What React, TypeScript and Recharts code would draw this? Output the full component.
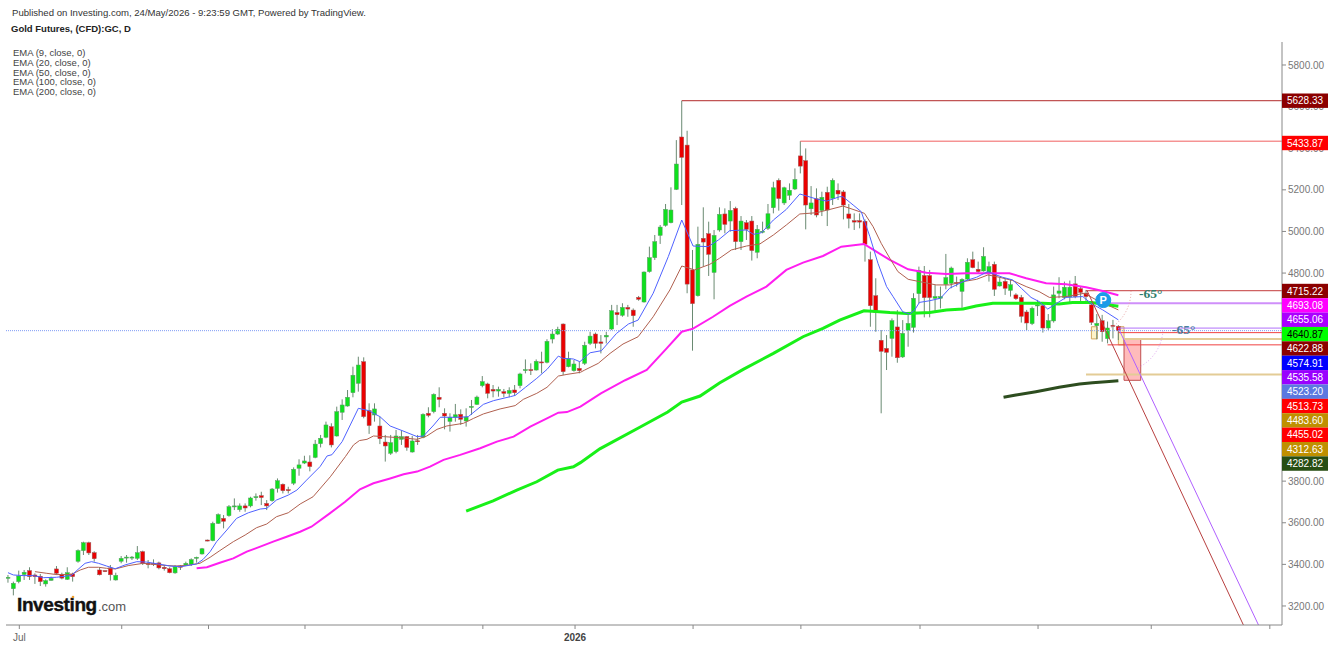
import React from "react";
import { ComposedChart, Bar, Line, XAxis, YAxis, ReferenceLine, ReferenceArea, ReferenceDot } from "recharts";

const opens = [3333,3283,3317,3351,3370,3349,3343,3306,3323,3378,3351,3328,3354,3415,3466,3504,3456,3373,3370,3383,3325,3415,3432,3432,3429,3461,3405,3405,3407,3386,3379,3359,3392,3397,3400,3431,3450,3517,3514,3597,3621,3634,3676,3663,3681,3681,3721,3730,3693,3706,3765,3785,3759,3790,3862,3887,3892,3914,3980,4011,4062,4017,4131,4161,4225,4270,4374,4139,4118,4065,3988,3934,3942,4001,4014,3940,3994,4011,4126,4134,4203,4126,4087,4107,4121,4089,4156,4169,4259,4267,4241,4233,4230,4222,4238,4259,4333,4336,4334,4373,4371,4483,4507,4555,4350,4331,4342,4366,4462,4507,4469,4493,4531,4610,4597,4635,4622,4683,4661,4807,4874,4981,5029,5042,5202,5454,5415,4815,4691,4967,4989,4803,5007,5084,5050,5111,4951,5042,5050,4900,4997,5015,5114,5246,5137,5174,5204,5363,5340,5109,5157,5101,5188,5159,5198,5190,5084,5052,5052,5049,4864,4691,4477,4438,4486,4541,4397,4525,4539,4701,4788,4788,4679,4679,4746,4751,4755,4712,4771,4864,4818,4810,4799,4842,4738,4760,4717,4695,4683,4613,4557,4642,4643,4536,4570,4703,4682,4685,4748,4725,4703,4647,4547,4571,4485,4549,4544];
const closes = [3338,3309,3344,3362,3341,3341,3317,3322,3333,3357,3334,3360,3341,3466,3504,3455,3427,3350,3365,3350,3347,3429,3435,3435,3456,3405,3399,3400,3383,3379,3360,3389,3386,3405,3423,3434,3475,3512,3597,3639,3607,3677,3681,3681,3671,3719,3725,3721,3681,3762,3802,3754,3754,3857,3878,3897,3870,3978,4006,4070,3974,4134,4166,4203,4309,4358,4110,4067,4147,4004,3969,3985,4017,4014,3962,3993,3990,4121,4116,4217,4193,4113,4107,4119,4097,4108,4159,4204,4278,4222,4233,4241,4222,4236,4225,4315,4336,4331,4376,4368,4472,4507,4530,4326,4389,4363,4331,4453,4497,4462,4462,4501,4619,4600,4635,4627,4595,4674,4805,4874,4951,5021,5106,5103,5324,5356,4747,4653,4938,4949,4890,4981,5082,5034,5101,4951,5050,5010,4908,5010,5001,5085,5210,5158,5210,5198,5250,5314,5127,5137,5079,5164,5103,5246,5180,5127,5063,5045,5045,4938,4643,4610,4424,4419,4571,4393,4510,4558,4679,4813,4682,4682,4687,4687,4778,4824,4751,4770,4852,4826,4807,4880,4831,4722,4757,4727,4744,4677,4592,4560,4631,4647,4536,4571,4695,4714,4732,4732,4687,4707,4687,4563,4558,4518,4536,4544,4523];
const highs = [3349,3317,3370,3373,3386,3357,3354,3328,3341,3392,3360,3386,3360,3472,3509,3509,3463,3386,3371,3397,3360,3440,3445,3440,3488,3466,3421,3424,3413,3397,3386,3397,3397,3413,3429,3437,3479,3519,3605,3645,3637,3685,3717,3693,3693,3725,3741,3749,3709,3767,3813,3789,3773,3866,3905,3922,3924,3998,4022,4086,4078,4158,4193,4238,4350,4398,4395,4174,4174,4110,4022,4022,4046,4043,4017,4017,4022,4126,4155,4222,4251,4150,4126,4171,4145,4150,4190,4211,4305,4273,4262,4254,4243,4251,4262,4321,4385,4366,4385,4422,4482,4530,4542,4558,4422,4382,4374,4470,4518,4514,4502,4518,4647,4647,4655,4647,4630,4690,4808,4927,4983,5031,5132,5212,5439,5628,5484,4911,5023,5116,5047,5007,5116,5111,5146,5119,5074,5055,5074,5031,5047,5132,5239,5255,5215,5231,5303,5434,5399,5218,5207,5191,5215,5255,5231,5199,5132,5087,5087,5058,4903,4775,4526,4502,4582,4622,4574,4606,4703,4831,4834,4815,4743,4735,4892,4831,4783,4775,4871,4903,4855,4924,4855,4855,4780,4775,4767,4703,4695,4623,4639,4671,4655,4603,4735,4780,4759,4764,4786,4735,4719,4663,4603,4599,4567,4575,4550];
const lows = [3312,3251,3309,3325,3325,3306,3296,3293,3322,3349,3328,3325,3317,3408,3445,3445,3413,3347,3363,3322,3322,3405,3408,3421,3421,3397,3381,3392,3376,3370,3357,3355,3373,3392,3392,3408,3447,3511,3511,3594,3573,3629,3661,3653,3653,3674,3706,3685,3661,3701,3745,3741,3741,3781,3826,3882,3847,3910,3962,4006,3962,4014,4094,4158,4203,4230,4102,4027,4086,3978,3894,3926,3934,3974,3946,3937,3974,4006,4107,4126,4155,4049,4038,4086,4070,4062,4118,4166,4251,4198,4203,4206,4203,4203,4209,4246,4318,4310,4331,4318,4366,4462,4502,4310,4347,4326,4318,4358,4454,4438,4414,4462,4526,4550,4590,4590,4542,4667,4658,4802,4863,4940,5023,5039,5199,5127,4703,4427,4687,4831,4786,4674,4999,4991,4999,4911,4911,4959,4860,4871,4991,5007,5087,5100,5127,5151,5199,5279,5010,5079,5068,5074,5026,5127,5151,5058,5015,5007,5015,4855,4542,4518,4126,4334,4398,4369,4392,4446,4514,4654,4587,4587,4614,4630,4722,4727,4735,4630,4767,4823,4799,4807,4759,4690,4735,4695,4687,4671,4562,4526,4550,4594,4514,4526,4562,4679,4674,4655,4679,4655,4663,4550,4482,4470,4462,4486,4478];

const ema9: [number, number][] = [[0,3360],[1,3349],[2.8,3346],[4.7,3346],[6.6,3336],[9,3338],[11.8,3347],[13,3376],[14.3,3405],[15.5,3413],[16.8,3405],[18.3,3392],[19.9,3379],[21.7,3397],[23.9,3413],[25.7,3411],[27.9,3402],[30,3392],[32.2,3389],[35,3402],[36.2,3424],[37.5,3461],[38.7,3509],[40.6,3565],[42.4,3621],[44.6,3648],[46.8,3666],[48,3669],[49.8,3709],[52,3733],[53.6,3757],[55.4,3805],[57.9,3870],[59.2,3921],[60.1,3927],[62,3990],[63.5,4070],[65,4150],[66.9,4139],[69,4110],[70.9,4065],[73.1,4043],[75.9,4014],[77.1,4017],[79,4070],[80.2,4107],[83.9,4107],[85.4,4110],[88.2,4169],[90.1,4187],[93.2,4206],[94.1,4212],[96,4251],[98.1,4294],[100,4337],[102.1,4401],[103,4390],[104.9,4387],[106.1,4374],[108,4417],[110.1,4427],[112.9,4510],[115.1,4555],[116.9,4574],[119.7,4703],[122.5,4879],[125,5055],[127.1,4930],[129.9,4927],[131.8,4959],[133.9,5004],[137,5007],[138.3,4986],[139.8,4994],[142,5055],[144.4,5106],[146.9,5180],[150,5156],[151.9,5146],[154.3,5167],[154.9,5167],[156.8,5127],[158.3,5095],[159.9,4975],[161.4,4847],[163,4735],[164.2,4687],[166,4614],[167.3,4603],[168.2,4622],[169.1,4659],[171,4667],[173,4679],[174.7,4727],[177.2,4759],[179.7,4780],[181.8,4807],[183,4794],[184.5,4780],[186.4,4767],[188,4727],[189.8,4683],[191.3,4663],[192.9,4627],[194.1,4647],[196.3,4683],[199.4,4687],[200.9,4655],[203.1,4623],[206,4575]];
const ema20: [number, number][] = [[5,3365],[7.2,3357],[9,3351],[11.8,3352],[13.4,3373],[14.9,3386],[16.8,3386],[18.3,3381],[19.9,3378],[22.3,3394],[25.1,3405],[28.2,3397],[31,3392],[33.1,3395],[35.6,3405],[37.5,3434],[39.3,3466],[41.8,3509],[44,3541],[46.1,3576],[48,3594],[49.8,3629],[52,3648],[54.2,3690],[56.6,3725],[59.8,3821],[62.6,3918],[64.1,3974],[65.2,3995],[66.6,4001],[67.8,4017],[69.7,4014],[74,4006],[75.9,4001],[77.7,4017],[79.6,4049],[81.4,4065],[84.5,4078],[86.4,4102],[88.2,4123],[91.3,4147],[94.1,4163],[95.6,4193],[98.1,4222],[100,4251],[102.1,4305],[103.7,4313],[106.2,4323],[107,4334],[109.5,4366],[111.7,4414],[114.1,4459],[116.9,4494],[119.7,4590],[122.8,4719],[125,4834],[127.4,4815],[130.2,4842],[132,4871],[134.2,4911],[137,4930],[139.5,4940],[142,4983],[144.4,5031],[146.9,5084],[150,5090],[152.5,5106],[154.9,5122],[156.2,5111],[158.9,5087],[160.5,5023],[162,4943],[163.6,4871],[165.1,4807],[167,4770],[169.1,4759],[172.2,4743],[174.7,4743],[177.2,4759],[179.7,4770],[181.8,4791],[183.9,4780],[186.4,4764],[188.9,4735],[191.3,4711],[193.2,4683],[196.3,4687],[199.7,4703],[201.9,4671],[206,4623]];
const ema50: [number, number][] = [[35,3381],[36.9,3386],[39.3,3408],[41.8,3429],[44.3,3461],[46.8,3485],[49.2,3509],[51.7,3533],[54.2,3557],[56.3,3581],[59.7,3645],[62.5,3700],[65.3,3761],[67.8,3790],[70.9,3813],[73.4,3833],[75.9,3846],[78.3,3870],[80.8,3902],[83.9,3926],[87.6,3958],[90.7,3990],[93.8,4014],[96.9,4062],[100,4102],[102.1,4129],[103.7,4132],[106.2,4158],[110,4222],[114.5,4285],[118.5,4334],[122.2,4438],[125,4518],[127.1,4533],[130.8,4590],[133.9,4642],[137,4687],[140.7,4735],[144.4,4815],[147.5,4850],[151.2,4882],[154.6,4927],[158.8,4940],[161.1,4903],[163.6,4863],[167,4818],[170.4,4802],[174.1,4795],[177.8,4799],[180.2,4799],[185.8,4799],[188.9,4775],[192.6,4751],[196.3,4746],[200,4732],[203.1,4714],[206,4693]];
const ema100: [number, number][] = [[85,3656],[90,3705],[94.4,3757],[98.1,3797],[102,3853],[104.9,3869],[106.2,3889],[109.8,3955],[117.3,4060],[122.4,4132],[125,4180],[128.4,4209],[132,4272],[136.4,4337],[142,4414],[147.5,4494],[151.2,4534],[154.3,4574],[158.8,4619],[161,4615],[163.6,4610],[166.7,4606],[171,4610],[174.1,4622],[177.2,4627],[179.6,4642],[182.7,4655],[185.8,4655],[192,4655],[195,4651],[197.5,4658],[201,4658],[206,4641]];
const ema200: [number, number][] = [[184.7,4203],[187,4214],[190.7,4230],[195,4251],[198.8,4267],[201.2,4273],[203.7,4278],[206,4283]];

const yTicks = [3200,3400,3600,3800,4800,5000,5200,5400,5600,5800];
const monthTicks = [2.1,21.1,37.2,55.1,73.1,88.1,105.2,127.1,147.1,169.2,191.1,212.1,234.1];
const monthLabels: Record<number, string> = { 2.1: "Jul", 105.2: "2026" };
const emaLegend = ["EMA (9, close, 0)","EMA (20, close, 0)","EMA (50, close, 0)","EMA (100, close, 0)","EMA (200, close, 0)"];
const priceTags = ["4715.22","4693.08","4655.06","4640.87","4622.88","4574.91","4535.58","4523.20","4513.73","4483.60","4455.02","4312.63","4282.82"];
const priceTagColors = ["#8b0000","#ff00ff","#aa00ff","#00ff00","#8b0000","#0000ff","#9900ff","#5b78e0","#ff0000","#bf9000","#ff0000","#bf9000","#274e13"];

const X_MIN = -0.37, X_MAX = 236.36, Y_MIN = 3108.6, Y_MAX = 5910.5;
const rows = opens.map((o, i) => ({ i, o, h: highs[i], l: lows[i], c: closes[i] }));
const FONT = '"Liberation Sans", Arial, sans-serif';

function Candle(props: any) {
  const { x, y, width, height, payload } = props;
  if (!payload) return null;
  const { o, h, l, c } = payload;
  const k = height / Math.max(h - l, 1);
  const top = y + (h - Math.max(o, c)) * k;
  const bot = y + (h - Math.min(o, c)) * k;
  const cx = x + width / 2;
  const up = c >= o;
  return (
    <g>
      <line x1={cx} x2={cx} y1={y} y2={y + height} stroke="#6a8a72" strokeWidth={1} />
      <rect x={cx - 2} y={top} width={4} height={Math.max(bot - top, 1)} fill={up ? "#0fe01e" : "#ea0000"} stroke={up ? "#5a9a64" : "#9a5a5a"} strokeWidth={0.5} />
    </g>
  );
}

function MonthTick(props: any) {
  const { x, y, payload } = props;
  const label = monthLabels[payload.value];
  if (!label) return null;
  const bold = label === "2026";
  return <text x={x} y={y + 10} textAnchor="middle" fontSize={10} fontWeight={bold ? "bold" : "normal"} fill={bold ? "#444" : "#666"} fontFamily={FONT}>{label}</text>;
}

function Tag({ y, text, fill, color }: any) {
  return (
    <g>
      <rect x={1282} y={y - 7.2} width={46} height={14.4} fill={fill} />
      <text x={1305} y={y + 3.6} textAnchor="middle" fontSize={10} fill={color} fontFamily={FONT}>{text}</text>
    </g>
  );
}

function Overlay() {
  return (
    <svg width={1332} height={646} style={{ position: "absolute", left: 0, top: 0, pointerEvents: "none" }}>
      <g fontFamily={FONT}>
        <text x={12} y={16} fontSize={9.57} fill="#333">Published on Investing.com, 24/May/2026 - 9:23:59 GMT, Powered by TradingView.</text>
        <text x={11} y={32} fontSize={9.5} fontWeight="bold" fill="#222">Gold Futures, (CFD):GC, D</text>
        {emaLegend.map((t, k) => (
          <text key={t} x={13} y={56 + k * 9.8} fontSize={9.5} fill="#444">{t}</text>
        ))}
        <text x={17} y={611} fontSize={19} fontWeight="bold" letterSpacing={-0.4} stroke="#111" strokeWidth={0.4} fill="#111">Investing</text>
        <text x={98} y={611} fontSize={13} fill="#555">.com</text>
        <circle cx={73} cy={597} r={1.3} fill="#f0a030" />
        <path d="M1131 291 A44 44 0 0 1 1105.6 330.9" fill="none" stroke="#e8a0a0" strokeWidth={1} strokeDasharray="1 2" />
        <path d="M1163 328 A44 44 0 0 1 1137.6 367.9" fill="none" stroke="#e0a0f0" strokeWidth={1} strokeDasharray="1 2" />
        <text x={1139} y={297.5} fontSize={13.5} fontWeight="bold" fontFamily='"Liberation Serif", serif' fill="#2e7d6b">-65°</text>
        <text x={1172} y={333.5} fontSize={13.5} fontWeight="bold" fontFamily='"Liberation Serif", serif' fill="#4a7fa0">-65°</text>
        <Tag y={100.7} text="5628.33" fill="#8b0000" color="#fff" />
        <Tag y={143} text="5433.87" fill="#ff0000" color="#fff" />
        {priceTags.map((t, k) => (
          <Tag key={t} y={291 + k * 14.38} text={t} fill={priceTagColors[k]} color={priceTagColors[k] === "#00ff00" ? "#000" : "#fff"} />
        ))}
      </g>
    </svg>
  );
}

const seg = (x1: number, y1: number, x2: number, y2: number) => [{ x: x1, y: y1 }, { x: x2, y: y2 }] as any;

export default function App() {
  return (
    <div style={{ position: "absolute", left: 0, top: 0, width: 1332, height: 646, background: "#fff" }}>
      <ComposedChart width={1332} height={646} data={rows} margin={{ top: 42, right: 0, bottom: 0, left: 6 }}>
        <XAxis dataKey="i" type="number" domain={[X_MIN, X_MAX]} ticks={monthTicks} interval={0} height={21} allowDataOverflow
          stroke="#888" tickSize={4} tickLine={{ stroke: "#888" }} tick={<MonthTick />} />
        <YAxis orientation="right" type="number" domain={[Y_MIN, Y_MAX]} ticks={yTicks} interval={0} width={50} allowDataOverflow
          stroke="#888" tickSize={4} tickMargin={2} tickFormatter={(v: number) => v.toFixed(2)}
          tick={{ fontSize: 10, fill: "#777", fontFamily: FONT, textAnchor: "start" }} />

        <ReferenceLine segment={seg(X_MIN, 4523.2, X_MAX, 4523.2)} stroke="#7f9cf5" strokeDasharray="1 1" />
        <ReferenceLine segment={seg(125, 5628.33, X_MAX, 5628.33)} stroke="#b22a2a" />
        <ReferenceLine segment={seg(147, 5433.87, X_MAX, 5433.87)} stroke="#f06060" />
        <ReferenceLine segment={seg(200, 4715.22, X_MAX, 4715.22)} stroke="#c33a3a" />
        <ReferenceLine segment={seg(203, 4655.06, X_MAX, 4655.06)} stroke="#cf8ffa" strokeWidth={2} />
        <ReferenceLine segment={seg(206, 4535.58, X_MAX, 4535.58)} stroke="#b070fa" />
        <ReferenceLine segment={seg(206, 4513.73, X_MAX, 4513.73)} stroke="#f04040" />
        <ReferenceLine segment={seg(207, 4483.6, X_MAX, 4483.6)} stroke="#e3cc96" strokeWidth={2} />
        <ReferenceLine segment={seg(204, 4455.02, X_MAX, 4455.02)} stroke="#f04040" />
        <ReferenceLine segment={seg(200, 4312.63, X_MAX, 4312.63)} stroke="#e3cc96" strokeWidth={2} />

        <ReferenceArea x1={201} x2={202.1} y1={4483.6} y2={4542} fill="#ffeeb0" fillOpacity={0.7} stroke="#d3a860" />
        <ReferenceArea x1={206} x2={207.05} y1={4455} y2={4542} fill="#ffeeb0" fillOpacity={0.7} stroke="#d3a860" />

        <Bar dataKey={(d: any) => [d.l, d.h]} barSize={5} shape={<Candle />} isAnimationActive={false} />

        <Line data={ema200.map(([i, v]) => ({ i, v }))} dataKey="v" dot={false} stroke="#2d4d1f" strokeWidth={3} isAnimationActive={false} />
        <Line data={ema100.map(([i, v]) => ({ i, v }))} dataKey="v" dot={false} stroke="#18f018" strokeWidth={3} isAnimationActive={false} />
        <Line data={ema50.map(([i, v]) => ({ i, v }))} dataKey="v" dot={false} stroke="#ff1ef0" strokeWidth={2} isAnimationActive={false} />
        <Line data={ema20.map(([i, v]) => ({ i, v }))} dataKey="v" dot={false} stroke="#b0604f" strokeWidth={1} isAnimationActive={false} />
        <Line data={ema9.map(([i, v]) => ({ i, v }))} dataKey="v" dot={false} stroke="#4f62ff" strokeWidth={1} isAnimationActive={false} />

        <ReferenceLine segment={seg(200.2, 4715.22, 229.2, 3108.6)} stroke="#b84040" />
        <ReferenceLine segment={seg(206, 4535.58, 232, 3108.6)} stroke="#b060ff" />
        <ReferenceArea x1={207.05} x2={210.15} y1={4284.6} y2={4483.6} fill="#ffb4b4" fillOpacity={0.9} stroke="#c05050" />
        <ReferenceDot x={203.2} y={4670} r={7.5} fill="#1a9be8" stroke="#1a9be8"
          label={{ value: "P", position: "center", fill: "#fff", fontSize: 11, fontWeight: "bold", fontFamily: FONT }} />
      </ComposedChart>
      <Overlay />
    </div>
  );
}
